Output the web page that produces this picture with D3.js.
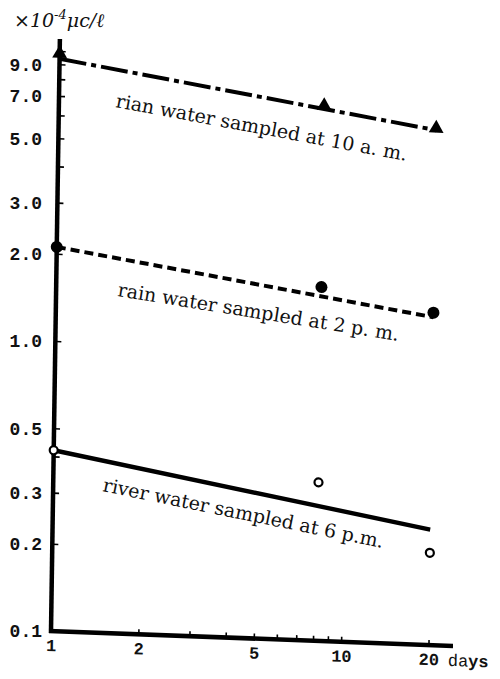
<!DOCTYPE html>
<html>
<head>
<meta charset="utf-8">
<script src="https://cdn.jsdelivr.net/npm/d3@7"></script>
<style>
  body { margin: 0; background: #fff; }
  svg { display: block; }
</style>
</head>
<body>
<svg width="500" height="679"></svg>
<script>
// sampling days and activities (x10^-4 uc/l)
const days = [1, 8.2, 20];
const rainAm = [9.8, 7.0, 6.05];
const rainPm = [2.11, 1.66, 1.40];
const riverPm = [0.42, 0.352, 0.208];

// fitted lines, end points
const fitDays = [1, 20];
const fitRainAm = [9.4, 5.96];
const fitRainPm = [2.11, 1.35];
const fitRiverPm = [0.42, 0.25];

const yTickLabels = ['9.0', '7.0', '5.0', '3.0', '2.0', '1.0', '0.5', '0.3', '0.2', '0.1'];
const yMinorTicks = [0.2, 0.3, 0.4, 0.5, 1, 2, 3, 4, 5, 6, 7, 8, 9, 10];
const xTickLabels = ['1', '2', '5', '10', '20'];
const xMinorTicks = [2, 3, 4, 5, 6, 7, 8, 9, 10, 20];
const seriesLabels = [
  'rian water sampled at 10 a. m.',
  'rain water sampled at 2 p. m.',
  'river water sampled at 6 p.m.'
];

const svg = d3.select('svg');

// log-log frame, ~290px a decade on both axes
const x = d3.scaleLog().domain([1, 24.3]).range([0, 402]);
const y = d3.scaleLog().domain([0.1, 11]).range([0, -592]);

// the scanned figure is a little sheared, so the plot group is too
const plot = svg.append('g')
  .attr('transform', 'matrix(1,0.0372,-0.015,1,51,631)');

// axis lines
plot.append('line')
  .attr('x1', 0).attr('y1', 2)
  .attr('x2', 0).attr('y2', y(11))
  .attr('stroke', '#000').attr('stroke-width', 4.5);
plot.append('line')
  .attr('x1', -2).attr('y1', 0)
  .attr('x2', x(24.3)).attr('y2', 0)
  .attr('stroke', '#000').attr('stroke-width', 4.5);

// small tick marks
const yTicks = plot.append('g')
  .call(d3.axisRight(y).tickValues(yMinorTicks).tickSize(6).tickFormat(''));
yTicks.select('.domain').remove();
yTicks.selectAll('line').attr('stroke-width', 1.6);

const xTicks = plot.append('g')
  .call(d3.axisTop(x).tickValues(xMinorTicks).tickSize(5).tickFormat(''));
xTicks.select('.domain').remove();
xTicks.selectAll('line').attr('stroke-width', 1.6);

// x tick labels
const xLab = plot.append('g')
  .call(d3.axisBottom(x)
    .tickValues(xTickLabels.map(Number))
    .tickSize(0).tickPadding(8)
    .tickFormat((d, i) => xTickLabels[i]));
xLab.select('.domain').remove();
xLab.selectAll('text')
  .attr('font-family', '"Liberation Mono", monospace')
  .attr('font-weight', 'bold')
  .attr('font-size', 17)
  .attr('fill', '#111');

// y tick labels stand upright beside the axis
const yLab = svg.append('g')
  .attr('transform', 'translate(51,631)')
  .call(d3.axisLeft(y)
    .tickValues(yTickLabels.map(Number))
    .tickSize(0).tickPadding(9)
    .tickFormat((d, i) => yTickLabels[i]));
yLab.select('.domain').remove();
yLab.selectAll('text')
  .attr('font-family', '"Liberation Mono", monospace')
  .attr('font-weight', 'bold')
  .attr('font-size', 18)
  .attr('fill', '#111');

// days label at the end of the x axis
const daysLabel = plot.append('text')
  .attr('x', x(24.3) - 5)
  .attr('y', 8)
  .attr('dy', '0.71em')
  .attr('font-family', '"Liberation Mono", monospace')
  .attr('font-size', 17)
  .attr('fill', '#111');
daysLabel.append('tspan').text('da');
daysLabel.append('tspan').attr('font-weight', 'bold').text('ys');

// unit label
const unit = svg.append('text')
  .attr('x', 14).attr('y', 27)
  .attr('font-family', '"DejaVu Serif", serif')
  .attr('font-style', 'italic')
  .attr('font-size', 19)
  .attr('fill', '#111');
unit.append('tspan').text('×10');
unit.append('tspan').attr('dy', -8).attr('font-size', 13).text('-4');
unit.append('tspan').attr('dy', 8).text('μc/ℓ');

// fitted lines
const line = d3.line()
  .x(d => x(d[0]))
  .y(d => y(d[1]));

const fits = [
  { vals: fitRainAm, dash: '27,5,5,5', width: 4 },
  { vals: fitRainPm, dash: '9,5', width: 4 },
  { vals: fitRiverPm, dash: null, width: 4.4 }
];

plot.selectAll('path.fit')
  .data(fits)
  .enter()
  .append('path')
    .attr('class', 'fit')
    .attr('d', f => line(d3.zip(fitDays, f.vals)))
    .attr('fill', 'none')
    .attr('stroke', '#000')
    .attr('stroke-width', f => f.width)
    .attr('stroke-dasharray', f => f.dash);

// measured points
plot.selectAll('path.tri')
  .data(d3.zip(days, rainAm))
  .enter()
  .append('path')
    .attr('class', 'tri')
    .attr('d', d3.symbol(d3.symbolTriangle, 95))
    .attr('transform', d => `translate(${x(d[0])},${y(d[1])})`)
    .attr('fill', '#000');

plot.selectAll('circle.dot')
  .data(d3.zip(days, rainPm))
  .enter()
  .append('circle')
    .attr('class', 'dot')
    .attr('cx', d => x(d[0]))
    .attr('cy', d => y(d[1]))
    .attr('r', 6)
    .attr('fill', '#000');

plot.selectAll('circle.ring')
  .data(d3.zip(days, riverPm))
  .enter()
  .append('circle')
    .attr('class', 'ring')
    .attr('cx', d => x(d[0]))
    .attr('cy', d => y(d[1]))
    .attr('r', 4)
    .attr('fill', '#fff')
    .attr('stroke', '#000')
    .attr('stroke-width', 2.2);

// slanted series labels under each line
const labelPlace = [
  { x: 115, y: 107, angle: 10.5 },
  { x: 117, y: 296, angle: 9.1 },
  { x: 102, y: 491, angle: 11.5 }
];

svg.selectAll('text.series')
  .data(seriesLabels)
  .enter()
  .append('text')
    .attr('class', 'series')
    .attr('transform', (d, i) =>
      `translate(${labelPlace[i].x},${labelPlace[i].y}) rotate(${labelPlace[i].angle})`)
    .attr('font-family', '"DejaVu Serif", serif')
    .attr('font-size', 19)
    .attr('fill', '#111')
    .text(d => d);
</script>
</body>
</html>
